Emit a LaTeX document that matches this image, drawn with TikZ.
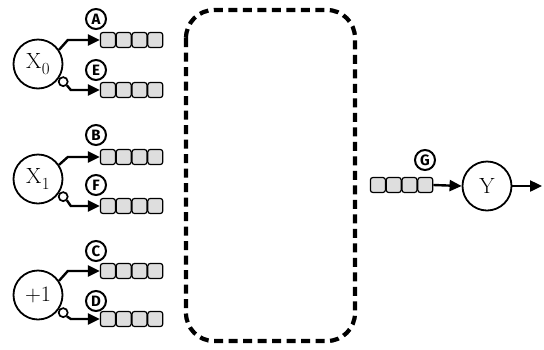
\documentclass[tikz,border=0pt]{standalone}
\usepackage{fontspec}
\newfontfamily\lblfont{Fira Sans}
\usetikzlibrary{arrows.meta,calc}
\newcommand\myqueue[3]{%
  \foreach \i in {1,...,4} {
    \node[cell] (#1-\i) at ({#2+7.9+(\i-1)*15.8},#3) {};
  }%
}
\newcommand\sub[1]{\kern0.5pt\raisebox{-6.5pt}{\fontsize{17}{17}\selectfont #1}}
\begin{document}
\begin{tikzpicture}[x=1pt,y=-1pt,
  big/.style={circle,draw,line width=1.8pt,minimum size=49pt,inner sep=0pt,font=\fontsize{22}{22}\selectfont},
  cell/.style={rectangle,draw,rounded corners=2.5pt,minimum width=15pt,minimum height=15pt,fill=black!13,line width=1.2pt,inner sep=0pt},
  tag/.style={circle,draw,line width=2pt,minimum size=20pt,inner sep=0pt,font=\lblfont\bfseries\fontsize{15}{15}\selectfont},
  bubble/.style={circle,draw,line width=1.7pt,minimum size=9pt,inner sep=0pt,fill=white},
  arr/.style={line width=2.4pt,-{Triangle[length=12pt,width=11pt]}},
  frame/.style={line width=4.2pt,dash pattern=on 9pt off 5.5pt,rounded corners=28pt}
]
\useasboundingbox (0,0) rectangle (544,349);

% dashed box
\draw[frame] (186,10) rectangle (355,341);

% inputs
\node[big] (X0) at (38,64) {X\sub{0}};
\node[big] (X1) at (38,179) {X\sub{1}};
\node[big] (P1) at (38,295) {+1};

% queues
\myqueue{qA}{100}{40}
\myqueue{qE}{100}{90}
\myqueue{qB}{100}{157}
\myqueue{qF}{100}{206}
\myqueue{qC}{100}{271}
\myqueue{qD}{100}{319}
\myqueue{qG}{370}{185}

% tags
\node[tag] (tA) at (96,19) {A};
\node[tag] (tE) at (96,70) {E};
\node[tag] (tB) at (96,135) {B};
\node[tag] (tF) at (96,185) {F};
\node[tag] (tC) at (96,251) {C};
\node[tag] (tD) at (96,301) {D};
\node[tag] (tG) at (425,160) {G};

% bubbles
\node[bubble,anchor=145] (bX0) at (X0.-35) {};
\node[bubble,anchor=145] (bX1) at (X1.-35) {};
\node[bubble,anchor=145] (bP1) at (P1.-35) {};

% connectors
\draw[arr] (X0.34) -- ([xshift=-32pt]qA-1.west) -- (qA-1.west);
\draw[arr] (bX0.-45) -- ([xshift=-29pt]qE-1.west) -- (qE-1.west);
\draw[arr] (X1.34) -- ([xshift=-32pt]qB-1.west) -- (qB-1.west);
\draw[arr] (bX1.-45) -- ([xshift=-29pt]qF-1.west) -- (qF-1.west);
\draw[arr] (P1.34) -- ([xshift=-32pt]qC-1.west) -- (qC-1.west);
\draw[arr] (bP1.-45) -- ([xshift=-29pt]qD-1.west) -- (qD-1.west);

% output
\node[big] (Y) at (487,186) {Y};
\coordinate (out) at (542,186);
\draw[arr] (qG-4.east) -- (Y.west);
\draw[arr] (Y.east) -- (out);
\end{tikzpicture}
\end{document}
